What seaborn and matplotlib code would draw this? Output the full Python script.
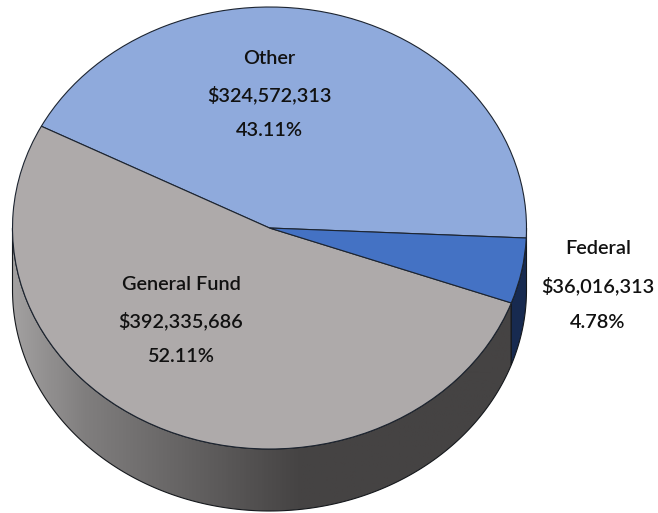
import numpy as np
import matplotlib
matplotlib.use("Agg")
import matplotlib.pyplot as plt
from matplotlib.colors import LinearSegmentedColormap
from matplotlib.patches import PathPatch
from matplotlib.path import Path
import seaborn as sns

categories = ["Other", "General Fund", "Federal"]
amounts = [324572313, 392335686, 36016313]
amount_labels = ["$324,572,313", "$392,335,686", "$36,016,313"]
percent_labels = ["43.11%", "52.11%", "4.78%"]
top_colors = ["#8FAADC", "#AEAAAA", "#4472C4"]
wall_stops = [(0.0, "#A2A0A0"), (0.14, "#807E7E"), (0.37, "#605E5E"), (0.56, "#454343"), (1.0, "#454343")]
federal_wall = "#172A50"

W, H = 658, 513
CX, CY, RX, RY, DEPTH = 269.5, 228.0, 257.0, 221.0, 62.0
START = -2.6
d = DEPTH / RY

sns.set_theme(style="white")
sns.set_palette(top_colors)
plt.rcParams["font.family"] = ["Lato", "DejaVu Sans"]
fig = plt.figure(figsize=(W / 100, H / 100), dpi=100)
ax = fig.add_axes([0, 0, 1, 1])


def to_data(px, py):
    return (px - CX) / RX, (CY - py) / RY


def wall(t0, t1):
    t = np.radians(np.linspace(t0, t1, 200))
    x, y = np.cos(t), np.sin(t)
    verts = np.vstack([np.c_[x, y], np.c_[x[::-1], y[::-1] - d]])
    return Path(np.vstack([verts, verts[:1]]), closed=True)


wedges, _ = ax.pie(amounts, colors=sns.color_palette(), startangle=START,
                   counterclock=True, radius=1, center=(0, 0),
                   wedgeprops=dict(edgecolor="#1c2430", linewidth=0.8, zorder=3))
ax.set_aspect("auto")
x0, y1 = to_data(0, 0)
x1, y0 = to_data(W, H)

angles = np.cumsum(amounts) / np.sum(amounts) * 360 + START
gen_end = angles[1]

cmap = LinearSegmentedColormap.from_list("wall", wall_stops)
grad = np.linspace(0, 1, 512)[None, :]
im = ax.imshow(grad, cmap=cmap, extent=(-1, 1, -1 - d, 0), aspect="auto", zorder=1)
gen_path = PathPatch(wall(180, gen_end), fc="none", ec="#15181c", lw=0.8, zorder=2)
ax.add_patch(gen_path)
im.set_clip_path(gen_path)
ax.add_patch(PathPatch(wall(gen_end, 360), fc=federal_wall, ec="#15181c", lw=0.8, zorder=2))
ax.set_xlim(x0, x1)
ax.set_ylim(y0, y1)
ax.set_aspect("auto")

label_pos = [(269, 58), (181, 284), (598, 249)]
for name, amt, pct, (px, py) in zip(categories, amount_labels, percent_labels, label_pos):
    for i, s in enumerate((name, amt, pct)):
        x, y = to_data(px, py + i * 36.5)
        ax.text(x, y, s, ha="center", va="center", fontsize=14.3, fontweight="semibold",
                color="#111111", zorder=5)

fig.savefig("out.png", dpi=100, facecolor="white")
